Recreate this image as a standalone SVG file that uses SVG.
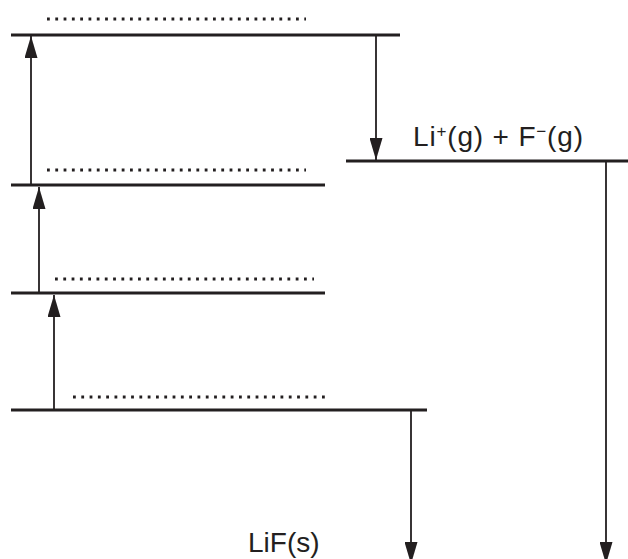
<svg xmlns="http://www.w3.org/2000/svg" width="628" height="559" viewBox="0 0 628 559">
<style>
.level{stroke:#231f20;stroke-width:2.8;fill:none}
.dots{stroke:#231f20;stroke-width:2.8;stroke-dasharray:2.8 5.5;fill:none}
.arr{stroke:#231f20;stroke-width:1.8;fill:none;marker-end:url(#ah)}
.lbl{font-family:"Liberation Sans",Arial,sans-serif;fill:#231f20}
</style>
<defs>
<marker id="ah" markerUnits="userSpaceOnUse" markerWidth="22" markerHeight="13" refX="22" refY="6.5" orient="auto" viewBox="0 0 22 13">
<path d="M0,0 L22,6.5 L0,13 z" fill="#231f20"/>
</marker>
</defs>
<rect width="628" height="559" fill="#fff"/>
<g id="level1">
<line class="level" x1="11" y1="35" x2="400" y2="35"/>
<line class="dots" x1="47" y1="19" x2="306" y2="19"/>
</g>
<g id="level-ions">
<line class="level" x1="346" y1="161" x2="628" y2="161"/>
<text class="lbl" x="413" y="146" font-size="28" textLength="170" lengthAdjust="spacing">Li<tspan font-size="17" dy="-9">+</tspan><tspan dy="9">(g) + F</tspan><tspan font-size="17" dy="-9">−</tspan><tspan dy="9">(g)</tspan></text>
</g>
<g id="level2">
<line class="level" x1="11" y1="185" x2="325" y2="185"/>
<line class="dots" x1="47" y1="170" x2="306" y2="170"/>
</g>
<g id="level3">
<line class="level" x1="11" y1="293" x2="325" y2="293"/>
<line class="dots" x1="55" y1="279" x2="314" y2="279"/>
</g>
<g id="level4">
<line class="level" x1="11" y1="410" x2="427" y2="410"/>
<line class="dots" x1="73" y1="397" x2="330" y2="397"/>
</g>
<g id="lif">
<text class="lbl" x="248" y="552" font-size="28">LiF(s)</text>
</g>
<g id="connectors">
<line class="arr" x1="31" y1="185" x2="31" y2="36"/>
<line class="arr" x1="376" y1="35" x2="376" y2="160"/>
<line class="arr" x1="39" y1="293" x2="39" y2="187"/>
<line class="arr" x1="54" y1="410" x2="54" y2="295"/>
<line class="arr" x1="411" y1="410" x2="411" y2="564"/>
<line class="arr" x1="606" y1="161" x2="606" y2="564"/>
</g>
</svg>
